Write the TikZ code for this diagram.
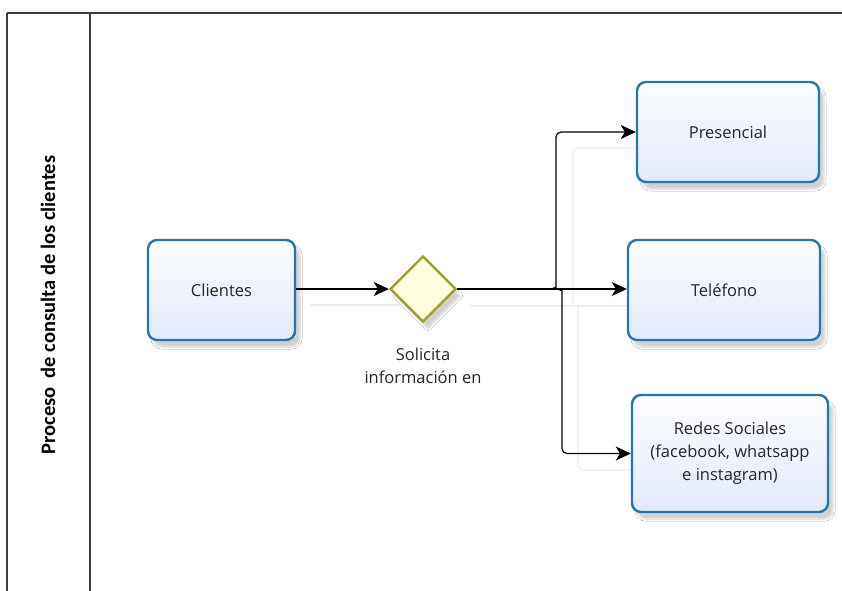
\documentclass[tikz,border=0pt]{standalone}
\usepackage{fontspec}
\setmainfont{Open Sans}
\newfontfamily\lanefont{Carlito}
\usetikzlibrary{arrows.meta,shapes.geometric,shadows.blur}
\definecolor{taskline}{RGB}{38,118,168}
\definecolor{tasktop}{RGB}{252,253,255}
\definecolor{taskbot}{RGB}{226,233,250}
\definecolor{gwline}{RGB}{158,158,38}
\definecolor{gwfill}{RGB}{255,255,222}
\definecolor{frameline}{RGB}{60,60,60}
\definecolor{ghost}{RGB}{238,238,238}
\tikzset{
  task/.style={draw=taskline, line width=2.4pt, rounded corners=9pt,
    top color=tasktop, bottom color=taskbot, align=center,
    font=\fontsize{16.5}{23}\selectfont, text=black!85,
    blur shadow={shadow xshift=5pt, shadow yshift=-7pt, shadow opacity=18, shadow blur steps=6}},
  gateway/.style={diamond, draw=gwline, line width=2.4pt, fill=gwfill,
    minimum width=66pt, minimum height=66pt, inner sep=0pt,
    blur shadow={shadow xshift=5pt, shadow yshift=-7pt, shadow opacity=18, shadow blur steps=6}},
  flow/.style={draw=black, line width=1.2pt, -{Stealth[length=15pt,width=14pt,inset=4pt]}},
  flowghost/.style={draw=ghost, line width=1.1pt},
  caption/.style={align=center, font=\fontsize{16.5}{23}\selectfont, text=black!85},
}
\begin{document}
\begin{tikzpicture}[x=1pt,y=-1pt]
  \useasboundingbox (0,0) rectangle (842,590);
  \fill[white] (0,0) rectangle (842,590);
  \begin{scope}
    \clip (0,0) rectangle (842,590);
    % pool and lane header
    \draw[frameline, line width=1.3pt] (7,13) -- (850,13);
    \draw[frameline, line width=1.3pt] (7,13) -- (7,600);
    \draw[frameline, line width=1.1pt] (90,13) -- (90,600);
  \end{scope}
  \node[rotate=90, font=\lanefont\bfseries\fontsize{20.5}{24}\selectfont] (lane) at (48,305) {Proceso\ \ de consulta de los clientes};

  % faint connector shadows
  \draw[flowghost] (310,305) -- (400,305);
  \draw[flowghost] (470,306) -- (640,306);
  \draw[flowghost, rounded corners=6pt] (573,306) -- (573,148) -- (652,148);
  \draw[flowghost, rounded corners=6pt] (578,306) -- (578,470) -- (645,470);

  % tasks
  \node[task, minimum width=147pt, minimum height=100pt] (cli) at (221.5,290) {Clientes};
  \node[task, minimum width=182pt, minimum height=100pt] (pres) at (728,132) {Presencial};
  \node[task, minimum width=192pt, minimum height=100pt] (tel) at (724,290) {Teléfono};
  \node[task, minimum width=196pt, minimum height=117pt] (red) at (730,453.5)
    {Redes Sociales\\(facebook, whatsapp\\e instagram)};

  % gateway and its caption
  \node[gateway] (gw) at (423,289) {};
  \node[caption, anchor=north] (gwlabel) at (423,344) {Solicita\\información en};

  % sequence flows
  \coordinate (ja) at (550,289);
  \coordinate (jb) at (556,289);
  \draw[flow] (cli.east |- gw.west) -- (gw.west);
  \draw[flow] (gw.east) -- (tel.west |- gw.east);
  \draw[flow, rounded corners=5pt] (ja) to[out=0,in=-90] (556,283) |- (pres.west);
  \draw[flow, rounded corners=5pt] (jb) to[out=0,in=90] (562,295) |- (red.west);
\end{tikzpicture}
\end{document}
